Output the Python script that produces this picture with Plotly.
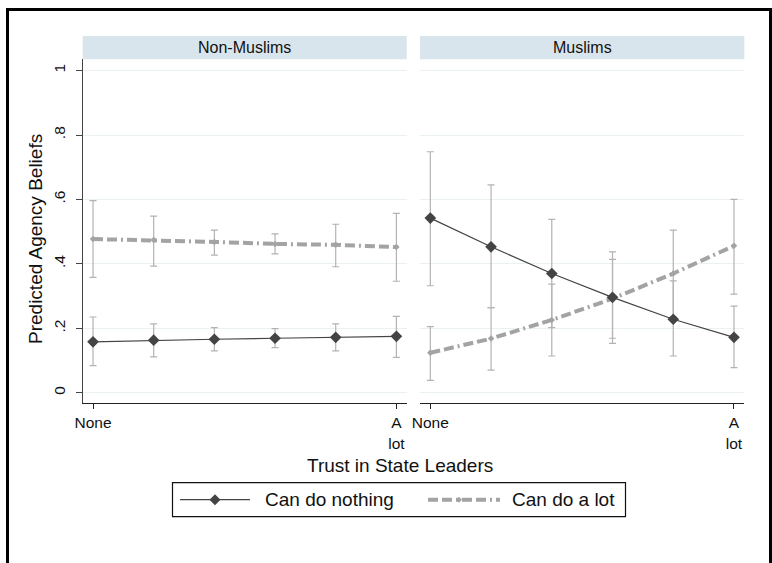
import plotly.graph_objects as go

# Trust in state leaders: six ordered levels, labelled only at the ends
trust_levels = [0, 1, 2, 3, 4, 5]
trust_tickvals = [0, 5]
trust_ticktext = ["None", "A<br>lot"]
y_tickvals = [0, 0.2, 0.4, 0.6, 0.8, 1.0]
y_ticktext = ["0", ".2", ".4", ".6", ".8", "1"]

panels = ["Non-Muslims", "Muslims"]
series_names = ["Can do nothing", "Can do a lot"]

# Non-Muslims: predicted agency beliefs with 95% CIs
nm_nothing = [0.158, 0.163, 0.166, 0.169, 0.172, 0.175]
nm_nothing_lo = [0.084, 0.111, 0.130, 0.140, 0.130, 0.110]
nm_nothing_hi = [0.235, 0.214, 0.202, 0.199, 0.214, 0.237]
nm_alot = [0.477, 0.474, 0.468, 0.462, 0.459, 0.452]
nm_alot_lo = [0.358, 0.393, 0.427, 0.431, 0.391, 0.346]
nm_alot_hi = [0.596, 0.548, 0.505, 0.493, 0.523, 0.557]

# Muslims
m_nothing = [0.542, 0.453, 0.370, 0.296, 0.228, 0.172]
m_nothing_lo = [0.332, 0.264, 0.202, 0.153, 0.114, 0.078]
m_nothing_hi = [0.748, 0.645, 0.538, 0.437, 0.347, 0.269]
m_alot = [0.124, 0.168, 0.226, 0.292, 0.370, 0.456]
m_alot_lo = [0.038, 0.070, 0.114, 0.169, 0.235, 0.306]
m_alot_hi = [0.205, 0.264, 0.337, 0.414, 0.505, 0.600]

W, H = 772, 563
FONT = "Liberation Sans, Arial, sans-serif"
TXT = "#111111"
DARK = "#444444"
LIGHT = "#a3a3a3"
CI = "#b3b3b3"
GRID = "#eaf1f3"
STRIP = "#d9e5ec"
ALOT_DASH = "10px,4px,10px,4px,2px,4px"


def px_x(v):
    return v / W


def px_y(v):
    return (H - v) / H


fig = go.Figure()

data = {
    ("x", "y"): [(nm_nothing, nm_nothing_lo, nm_nothing_hi),
                 (nm_alot, nm_alot_lo, nm_alot_hi)],
    ("x2", "y2"): [(m_nothing, m_nothing_lo, m_nothing_hi),
                   (m_alot, m_alot_lo, m_alot_hi)],
}

# confidence intervals first, so the lines sit on top
for (xa, ya), series in data.items():
    for est, lo, hi in series:
        fig.add_trace(go.Scatter(
            x=trust_levels, y=est, xaxis=xa, yaxis=ya, mode="markers",
            marker=dict(size=1, opacity=0),
            error_y=dict(type="data", symmetric=False,
                         array=[h - e for h, e in zip(hi, est)],
                         arrayminus=[e - l for e, l in zip(est, lo)],
                         color=CI, thickness=1.2, width=3.5),
            showlegend=False, hoverinfo="skip"))

for i, ((xa, ya), series) in enumerate(data.items()):
    (n_est, _, _), (a_est, _, _) = series
    fig.add_trace(go.Scatter(
        x=trust_levels, y=a_est, xaxis=xa, yaxis=ya, mode="lines+markers",
        name=series_names[1], showlegend=False,
        line=dict(color=LIGHT, width=4, dash=ALOT_DASH),
        marker=dict(symbol="diamond", size=5, color=LIGHT)))
    fig.add_trace(go.Scatter(
        x=trust_levels, y=n_est, xaxis=xa, yaxis=ya, mode="lines+markers",
        name=series_names[0], showlegend=False,
        line=dict(color=DARK, width=1.2),
        marker=dict(symbol="diamond", size=9, color=DARK)))

x_common = dict(range=[-0.17, 5.17], tickvals=trust_tickvals, ticktext=trust_ticktext,
                showgrid=False, zeroline=False, showline=True, linecolor="#222222",
                linewidth=1.2, ticks="outside", ticklen=5, tickcolor="#222222",
                tickfont=dict(family=FONT, size=15.5, color=TXT), ticklabelstandoff=1,
                automargin=False)
y_common = dict(range=[-0.031, 1.035], tickvals=y_tickvals, showgrid=True,
                gridcolor=GRID, gridwidth=1, zeroline=False, automargin=False,
                domain=[px_y(402.7), px_y(59.3)])

fig.update_layout(
    width=W, height=H, margin=dict(l=0, r=0, t=0, b=0, autoexpand=False),
    paper_bgcolor="white", plot_bgcolor="white",
    font=dict(family=FONT, color=TXT),
    xaxis=dict(domain=[px_x(82.7), px_x(406.7)], anchor="y", **x_common),
    xaxis2=dict(domain=[px_x(420), px_x(744.3)], anchor="y2", **x_common),
    yaxis=dict(anchor="x", ticktext=y_ticktext, showline=True, linecolor="#444444",
               linewidth=1.2, ticks="outside", ticklen=6, tickcolor="#444444",
               tickangle=-90, tickfont=dict(family=FONT, size=15.5, color=TXT),
               ticklabelstandoff=4, **y_common),
    yaxis2=dict(anchor="x2", matches="y", showticklabels=False, showline=False,
                ticks="", **y_common),
    showlegend=False,
)

shapes = [
    # outer frame
    dict(type="rect", xref="paper", yref="paper", x0=px_x(7.5), x1=px_x(770.5),
         y0=-0.05, y1=px_y(9.5), line=dict(color="black", width=3), layer="above"),
]
annotations = []
for (x0, x1), label in zip([(82.7, 406.7), (420, 744.3)], panels):
    shapes.append(dict(type="rect", xref="paper", yref="paper", x0=px_x(x0), x1=px_x(x1),
                       y0=px_y(59.3), y1=px_y(36), fillcolor=STRIP, line=dict(width=0),
                       layer="below"))
    annotations.append(dict(text=label, xref="paper", yref="paper",
                            x=px_x((x0 + x1) / 2), y=px_y(47.6), showarrow=False,
                            xanchor="center", yanchor="middle",
                            font=dict(family=FONT, size=16, color=TXT)))

annotations.append(dict(text="Trust in State Leaders", xref="paper", yref="paper",
                        x=px_x(400), y=px_y(465.5), showarrow=False, xanchor="center",
                        yanchor="middle", font=dict(family=FONT, size=19, color=TXT)))
annotations.append(dict(text="Predicted Agency Beliefs", xref="paper", yref="paper",
                        x=px_x(36), y=px_y(239), showarrow=False, textangle=-90,
                        xanchor="center", yanchor="middle",
                        font=dict(family=FONT, size=19, color=TXT)))

# legend key: framed box with a line sample and a label for each series
LEG_Y = 499.7
shapes.append(dict(type="rect", xref="paper", yref="paper", x0=px_x(172.5), x1=px_x(625.5),
                   y0=px_y(516.7), y1=px_y(482.7), line=dict(color="#111111", width=1.2),
                   fillcolor="white"))
legend_keys = [
    dict(x0=180, x1=250, mid=215, color=DARK, width=1.2, dash="solid", half=5.5,
         text_x=263),
    dict(x0=428, x1=500, mid=459, color=LIGHT, width=4, dash=ALOT_DASH, half=3,
         text_x=510),
]
for key, label in zip(legend_keys, series_names):
    shapes.append(dict(type="line", xref="paper", yref="paper",
                       x0=px_x(key["x0"]), x1=px_x(key["x1"]),
                       y0=px_y(LEG_Y), y1=px_y(LEG_Y),
                       line=dict(color=key["color"], width=key["width"], dash=key["dash"])))
    m, h = key["mid"], key["half"]
    shapes.append(dict(type="path", xref="paper", yref="paper",
                       path=(f"M {px_x(m - h)} {px_y(LEG_Y)} L {px_x(m)} {px_y(LEG_Y - h)} "
                             f"L {px_x(m + h)} {px_y(LEG_Y)} L {px_x(m)} {px_y(LEG_Y + h)} Z"),
                       fillcolor=key["color"], line=dict(width=0)))
    annotations.append(dict(text=label, xref="paper", yref="paper", x=px_x(key["text_x"]),
                            y=px_y(LEG_Y), showarrow=False, xanchor="left",
                            yanchor="middle", font=dict(family=FONT, size=19, color=TXT)))

fig.update_layout(shapes=shapes, annotations=annotations)
fig.write_html("out.html")
